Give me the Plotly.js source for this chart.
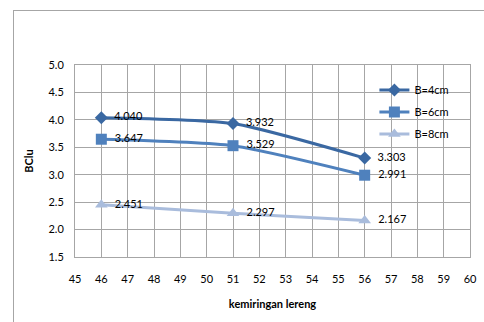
<!DOCTYPE html>
<html>
<head>
<meta charset="utf-8">
<script src="https://cdn.plot.ly/plotly-3.0.1.min.js"></script>
<style>
html,body{margin:0;padding:0;width:484px;height:322px;overflow:hidden;background:#fff;}
#frame{position:absolute;left:13px;top:10px;width:520px;height:400px;border-left:1px solid #a6a6a6;border-top:1px solid #a6a6a6;}
#chart{position:absolute;left:0;top:0;width:484px;height:322px;}
</style>
</head>
<body>
<div id="frame"></div>
<div id="chart"></div>
<script>
const slope = [46, 51, 56];
const b4 = [4.040, 3.932, 3.303];
const b6 = [3.647, 3.529, 2.991];
const b8 = [2.451, 2.297, 2.167];
const seriesNames = ['B=4cm', 'B=6cm', 'B=8cm'];
const xTicks = [45,46,47,48,49,50,51,52,53,54,55,56,57,58,59,60];
const yTicks = [1.5,2.0,2.5,3.0,3.5,4.0,4.5,5.0];

const colors = ['#3a68a2', '#4f81bd', '#a9bcdc'];
const symbols = ['diamond', 'square', 'triangle-up'];
const sizes = [10, 11, 11];
const allY = [b4, b6, b8];

const traces = allY.map((ys, i) => ({
  x: slope, y: ys, name: seriesNames[i], legendgroup: 'g' + i,
  type: 'scatter', mode: 'lines+markers+text',
  text: ys.map(v => '  ' + v.toFixed(3)),
  textposition: 'middle right',
  textfont: {family: 'Lato, sans-serif', size: 11, color: '#000'},
  line: {color: colors[i], width: 3, shape: 'spline', smoothing: 0.6},
  marker: {color: colors[i], symbol: symbols[i], size: sizes[i]},
  cliponaxis: false
}));

const layout = {
  width: 484, height: 322,
  margin: {l: 75, r: 14, t: 65, b: 65},
  paper_bgcolor: 'rgba(0,0,0,0)', plot_bgcolor: 'rgba(0,0,0,0)',
  font: {family: 'Lato, sans-serif', size: 11, color: '#000'},
  xaxis: {
    range: [45, 60], tickvals: xTicks, ticktext: xTicks.map(String),
    showgrid: true, gridcolor: '#a6a6a6', gridwidth: 1,
    showline: true, linecolor: '#a6a6a6', mirror: true,
    zeroline: false, ticks: '', ticklabelstandoff: 12,
    title: {text: '<b>kemiringan lereng</b>', font: {size: 11}, standoff: 16}
  },
  yaxis: {
    range: [1.5, 5.0], tickvals: yTicks, ticktext: yTicks.map(v => v.toFixed(1)),
    showgrid: true, gridcolor: '#a6a6a6', gridwidth: 1,
    showline: true, linecolor: '#a6a6a6', mirror: true,
    zeroline: false, ticks: '', ticklabelstandoff: 8,
    title: {text: '<b>BClu</b>', font: {size: 11}, standoff: 12}
  },
  showlegend: true,
  legend: {
    x: 0.758, y: 0.945, xanchor: 'left', yanchor: 'top',
    bgcolor: 'rgba(0,0,0,0)', borderwidth: 0,
    font: {size: 11}, itemwidth: 30, tracegroupgap: 3
  }
};

Plotly.newPlot('chart', traces, layout, {displayModeBar: false, staticPlot: true});
</script>
</body>
</html>
